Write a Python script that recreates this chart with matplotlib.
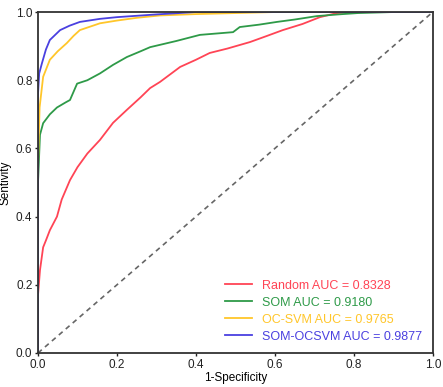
import matplotlib
matplotlib.use("Agg")
import matplotlib.pyplot as plt

plt.rcParams['font.family'] = ['Liberation Sans', 'DejaVu Sans']

random_fpr = [0.0, 0.0, 0.005, 0.013, 0.02, 0.03, 0.048, 0.06, 0.081, 0.1, 0.125, 0.157, 0.19, 0.225, 0.26, 0.284, 0.309, 0.36, 0.4, 0.435, 0.48, 0.537, 0.58, 0.62, 0.67, 0.714, 0.757, 0.8, 0.9, 1.0]
random_tpr = [0.0, 0.17, 0.243, 0.31, 0.33, 0.36, 0.40, 0.45, 0.507, 0.545, 0.585, 0.625, 0.675, 0.713, 0.75, 0.777, 0.795, 0.839, 0.86, 0.88, 0.893, 0.912, 0.93, 0.947, 0.965, 0.985, 0.997, 1.0, 1.0, 1.0]

som_fpr = [0.0, 0.0, 0.005, 0.013, 0.03, 0.048, 0.07, 0.081, 0.099, 0.125, 0.157, 0.19, 0.225, 0.26, 0.284, 0.35, 0.41, 0.494, 0.511, 0.56, 0.605, 0.65, 0.706, 0.76, 0.81, 0.9, 1.0]
som_tpr = [0.0, 0.5, 0.64, 0.674, 0.70, 0.72, 0.735, 0.742, 0.79, 0.80, 0.82, 0.845, 0.868, 0.885, 0.897, 0.915, 0.933, 0.941, 0.956, 0.963, 0.971, 0.978, 0.988, 0.993, 0.997, 1.0, 1.0]

ocsvm_fpr = [0.0, 0.0, 0.004, 0.013, 0.03, 0.05, 0.073, 0.09, 0.106, 0.157, 0.2, 0.25, 0.309, 0.4, 0.5, 0.6, 0.7, 1.0]
ocsvm_tpr = [0.0, 0.55, 0.72, 0.81, 0.86, 0.885, 0.909, 0.93, 0.947, 0.967, 0.975, 0.983, 0.99, 0.994, 0.997, 1.0, 1.0, 1.0]

somoc_fpr = [0.0, 0.0, 0.003, 0.01, 0.02, 0.03, 0.056, 0.08, 0.106, 0.157, 0.2, 0.3, 0.4, 0.5, 1.0]
somoc_tpr = [0.0, 0.76, 0.82, 0.85, 0.89, 0.918, 0.947, 0.96, 0.971, 0.98, 0.985, 0.993, 1.0, 1.0, 1.0]

labels = ['Random AUC = 0.8328', 'SOM AUC = 0.9180', 'OC-SVM AUC = 0.9765', 'SOM-OCSVM AUC = 0.9877']
colors = ['#ff4455', '#2e9a48', '#ffc62a', '#4a40e0']

fig = plt.figure(figsize=(4.43, 3.87), dpi=100)
ax = fig.add_axes([0.0858, 0.0879, 0.8912, 0.881])

for fpr, tpr, lab, c in zip([random_fpr, som_fpr, ocsvm_fpr, somoc_fpr],
                            [random_tpr, som_tpr, ocsvm_tpr, somoc_tpr], labels, colors):
    ax.plot(fpr, tpr, color=c, lw=1.3, label=lab)

ax.plot([0, 1], [0, 1], color='#666666', lw=1.2, ls=(0, (3, 2.5)))

ax.set_xlim(0, 1)
ax.set_ylim(0, 1)
ax.set_xticks([0, 0.2, 0.4, 0.6, 0.8, 1.0])
ax.set_yticks([0, 0.2, 0.4, 0.6, 0.8, 1.0])
ax.tick_params(labelsize=8.5, length=2.5, width=1, colors='#222222', pad=1.5)
for s in ax.spines.values():
    s.set_linewidth(1.3)
    s.set_color('#333333')
ax.set_xlabel('1-Specificity', fontsize=8.5, labelpad=1)
ax.set_ylabel('Sentivity', fontsize=8.5, labelpad=3)

leg = ax.legend(loc='lower right', bbox_to_anchor=(0.972, 0.03), frameon=False, fontsize=9,
                labelcolor='linecolor', handlelength=2.15, handletextpad=0.8, labelspacing=0.4,
                borderpad=0, borderaxespad=0)

fig.savefig('out.png', dpi=100)
